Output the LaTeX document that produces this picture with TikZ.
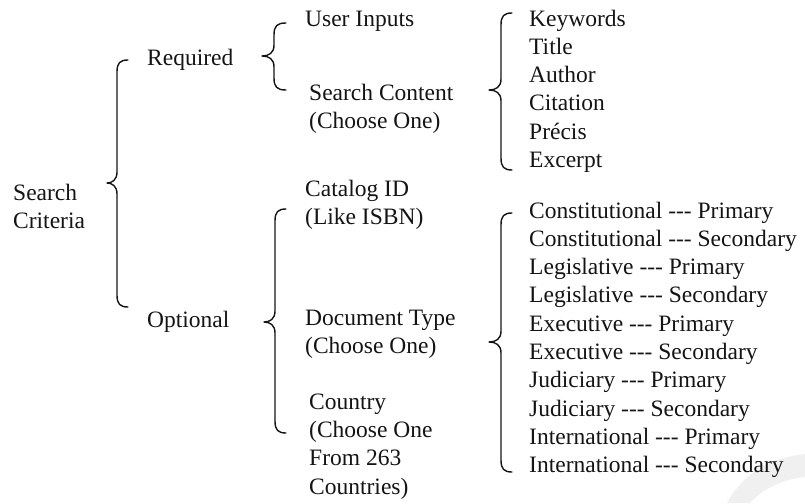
\documentclass[tikz,border=0pt]{standalone}
\usepackage{fontspec}
\setmainfont{Liberation Serif}[Ligatures=TeXOff]

% A curly brace opening to the right: tip x, stem x, end x, top y, tip y, bottom y
\newcommand\curlybrace[6]{%
  \draw[bracepath]
    (#3,#4) .. controls (#2+3,#4) and (#2,#4+3) .. (#2,#4+12)
    -- (#2,#5-11) .. controls (#2,#5-3) and (#2-5,#5) .. (#1,#5)
    .. controls (#2-5,#5) and (#2,#5+3) .. (#2,#5+11)
    -- (#2,#6-12) .. controls (#2,#6-3) and (#2+3,#6) .. (#3,#6);}

% labels are placed by the baseline of their last line
\tikzset{
  lbl/.style={anchor=base west, inner sep=0pt, align=left,
              font=\fontsize{23.5}{28.3}\selectfont, text=black!92},
  bracepath/.style={line width=1.4pt, line cap=round, line join=round, draw=black!92},
}

\begin{document}
\begin{tikzpicture}[x=1pt,y=-1pt]
  \useasboundingbox (0,0) rectangle (805,503);

  % faint swoosh in the lower right corner
  \fill[black!6] (727,503) .. controls (745,470) and (775,457) .. (805,454)
    -- (805,477) .. controls (785,479) and (763,488) .. (750,503) -- cycle;

  % level 0
  \node[lbl] (crit) at (13,228.5) {Search\\Criteria};

  % level 1
  \node[lbl] (req) at (147,65) {Required};
  \node[lbl] (opt) at (147,327) {Optional};

  % level 2
  \node[lbl] (user)    at (305,27)    {User Inputs};
  \node[lbl] (content) at (309,128.3) {Search Content\\(Choose One)};
  \node[lbl] (catalog) at (305,224.3) {Catalog ID\\(Like ISBN)};
  \node[lbl] (doctype) at (305,353.3) {Document Type\\(Choose One)};
  \node[lbl] (country) at (309,494)   {Country\\(Choose One\\From 263\\Countries)};

  % level 3
  \node[lbl] (fields) at (529,167.5) {Keywords\\Title\\Author\\Citation\\Précis\\Excerpt};
  \node[lbl] (types) at (529,472.7) {Constitutional --- Primary\\
    Constitutional --- Secondary\\Legislative --- Primary\\
    Legislative --- Secondary\\Executive --- Primary\\
    Executive --- Secondary\\Judiciary --- Primary\\
    Judiciary --- Secondary\\International --- Primary\\
    International --- Secondary};

  % braces
  \curlybrace{107}{117}{128}{60}{183}{307}
  \curlybrace{262}{274}{286}{23}{56}{90}
  \curlybrace{264}{275}{286}{209}{322}{433}
  \curlybrace{489}{501}{512}{13}{90}{170}
  \curlybrace{489}{501}{512}{213}{342}{472}
\end{tikzpicture}
\end{document}
